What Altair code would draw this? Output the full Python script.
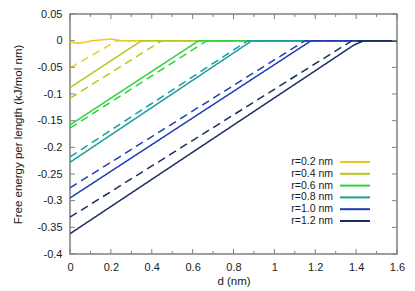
import altair as alt
import pandas as pd

# ---- data ----
radii = ["r=0.2 nm", "r=0.4 nm", "r=0.6 nm", "r=0.8 nm", "r=1.0 nm", "r=1.2 nm"]
colors = ["#efc81f", "#b4c91a", "#2fd23d", "#1a9d9a", "#1e3db4", "#173060"]

# solid curves (d in nm, energy in kJ/mol nm)
solid_d = {
    "r=0.2 nm": [0.0, 0.045, 0.11, 0.2, 0.25, 1.6],
    "r=0.4 nm": [0.0, 0.35, 1.6],
    "r=0.6 nm": [0.0, 0.63, 1.6],
    "r=0.8 nm": [0.0, 0.89, 1.6],
    "r=1.0 nm": [0.0, 1.18, 1.6],
    "r=1.2 nm": [0.0, 1.39, 1.44, 1.6],
}
solid_e = {
    "r=0.2 nm": [-0.003, -0.005, 0.0, 0.003, 0.0, 0.0],
    "r=0.4 nm": [-0.088, 0.0, 0.0],
    "r=0.6 nm": [-0.158, 0.0, 0.0],
    "r=0.8 nm": [-0.228, 0.0, 0.0],
    "r=1.0 nm": [-0.295, 0.0, 0.0],
    "r=1.2 nm": [-0.362, -0.008, 0.0, 0.0],
}
# dashed curves
dashed_d = {
    "r=0.2 nm": [0.0, 0.23, 1.6],
    "r=0.4 nm": [0.0, 0.45, 1.6],
    "r=0.6 nm": [0.0, 0.67, 1.6],
    "r=0.8 nm": [0.0, 0.87, 1.6],
    "r=1.0 nm": [0.0, 1.15, 1.6],
    "r=1.2 nm": [0.0, 1.38, 1.6],
}
dashed_e = {
    "r=0.2 nm": [-0.051, 0.0, 0.0],
    "r=0.4 nm": [-0.108, 0.0, 0.0],
    "r=0.6 nm": [-0.164, 0.0, 0.0],
    "r=0.8 nm": [-0.218, 0.0, 0.0],
    "r=1.0 nm": [-0.276, 0.0, 0.0],
    "r=1.2 nm": [-0.331, 0.0, 0.0],
}

x_major = [0, 0.2, 0.4, 0.6, 0.8, 1.0, 1.2, 1.4, 1.6]
x_minor = [0.1, 0.3, 0.5, 0.7, 0.9, 1.1, 1.3, 1.5]
y_major = [-0.4, -0.35, -0.3, -0.25, -0.2, -0.15, -0.1, -0.05, 0, 0.05]

# ---- build table ----
rows = []
for r in radii:
    for i, (d, e) in enumerate(zip(solid_d[r], solid_e[r])):
        rows.append({"r": r, "style": "solid", "series": r + " solid", "i": i, "d": d, "e": e})
    for i, (d, e) in enumerate(zip(dashed_d[r], dashed_e[r])):
        rows.append({"r": r, "style": "dashed", "series": r + " dashed", "i": i, "d": d, "e": e})
df = pd.DataFrame(rows)

W, H = 327, 240
FONT = "Liberation Sans"
GRAY = "#808080"

xscale = alt.Scale(domain=[0, 1.6], nice=False, zero=False)
yscale = alt.Scale(domain=[-0.4, 0.05], nice=False, zero=False)
cscale = alt.Scale(domain=radii, range=colors)

x_axis = alt.Axis(title="d (nm)", values=x_major, labelExpr="format(datum.value, '.1~f')",
                  tickSize=0, domain=False, grid=False, labelPadding=7, titlePadding=3,
                  labelOverlap=False, labelFlush=False)
y_axis = alt.Axis(title="Free energy per length (kJ/mol nm)", values=y_major,
                  labelExpr="replace(format(datum.value, '.2~f'), '\u2212', '-')",
                  tickSize=0, domain=False, grid=False, labelPadding=8, titlePadding=13,
                  labelOverlap=False, labelFlush=False)

lines = alt.Chart(df).mark_line(strokeWidth=1.5, clip=True).encode(
    x=alt.X("d:Q", scale=xscale, axis=x_axis),
    y=alt.Y("e:Q", scale=yscale, axis=y_axis),
    color=alt.Color("r:N", scale=cscale, legend=None),
    strokeDash=alt.StrokeDash("style:N", scale=alt.Scale(domain=["solid", "dashed"], range=[[1, 0], [8, 5]]), legend=None),
    detail="series:N",
    order="i:Q",
)

xmaj = pd.DataFrame({"d": x_major})
xmin = pd.DataFrame({"d": x_minor})
ymaj = pd.DataFrame({"e": y_major})

def xt(data, length, top):
    if top:
        y0, y1 = 0, length
    else:
        y0, y1 = H, H - length
    return alt.Chart(data).mark_rule(color=GRAY, strokeWidth=1).encode(
        x=alt.X("d:Q", scale=xscale, axis=x_axis), y=alt.value(y0), y2=alt.value(y1))

def yt(data, length, right):
    if right:
        x0, x1 = W, W - length
    else:
        x0, x1 = 0, length
    return alt.Chart(data).mark_rule(color=GRAY, strokeWidth=1).encode(
        y=alt.Y("e:Q", scale=yscale, axis=y_axis), x=alt.value(x0), x2=alt.value(x1))

ticks = [xt(xmaj, 5, False), xt(xmaj, 5, True), xt(xmin, 3, False), xt(xmin, 3, True),
         yt(ymaj, 5, False), yt(ymaj, 5, True)]

base = alt.layer(lines, *ticks)

leg = pd.DataFrame({"r": radii})
lscale = alt.Scale(type="point", domain=radii, range=[148, 207], padding=0)
leg_rule = alt.Chart(leg).mark_rule(strokeWidth=2).encode(
    y=alt.Y("r:N", scale=lscale, axis=None),
    x=alt.value(270), x2=alt.value(300),
    color=alt.Color("r:N", scale=cscale, legend=None),
)
leg_text = alt.Chart(leg).mark_text(align="right", baseline="middle", font=FONT, fontSize=10.5, color="#1a1a1a").encode(
    y=alt.Y("r:N", scale=lscale, axis=None),
    x=alt.value(263),
    text="r:N",
)

chart = alt.layer(base, leg_rule, leg_text).resolve_scale(y="independent").properties(
    width=W, height=H,
    autosize=alt.AutoSizeParams(type="none"),
    padding={"left": 62, "top": 6, "right": 10, "bottom": 33},
).configure_view(stroke=GRAY, strokeWidth=1.5).configure_axis(
    labelFont=FONT, titleFont=FONT, labelFontSize=11, titleFontSize=11.5,
    labelColor="#1a1a1a", titleColor="#1a1a1a", titleFontWeight="normal",
)

chart.save("out.html", embed_options={"renderer": "svg", "actions": False})
